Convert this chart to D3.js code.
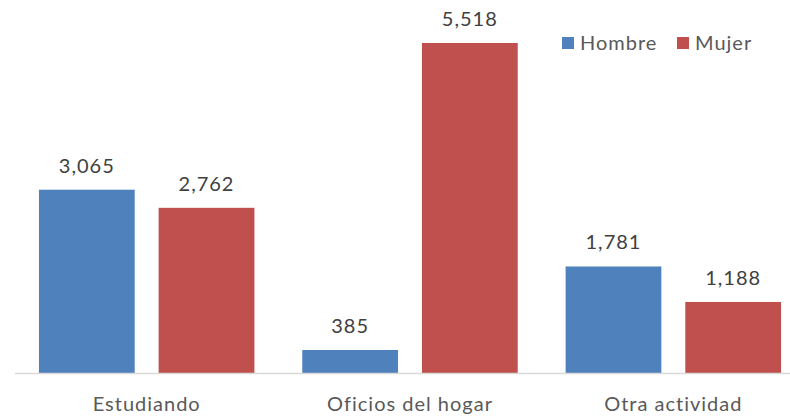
<!DOCTYPE html>
<html><head><meta charset="utf-8">
<script src="https://cdn.jsdelivr.net/npm/d3@7"></script>
<style>body{margin:0;background:#fff;overflow:hidden}svg{display:block;font-family:Lato,"Open Sans",sans-serif}</style>
</head><body>
<svg id="c" width="790" height="416"></svg>
<script>
const categories = ["Estudiando", "Oficios del hogar", "Otra actividad"];
const seriesNames = ["Hombre", "Mujer"];
const hombre = [3065, 385, 1781];
const mujer = [2762, 5518, 1188];
const colors = ["#4F81BD", "#C0504D"];

(function () {
const svg = d3.select("#c");
const base = 373, plotTop = 43;
const x0 = d3.scaleBand().domain(categories).range([15, 805]).paddingInner(0).paddingOuter(0);
const x1 = d3.scaleBand().domain(seriesNames).range([0, x0.bandwidth()]).paddingInner(0.2).paddingOuter(0.2);
const y = d3.scaleLinear().domain([0, 5518]).range([base, plotTop]);
const fmt = d3.format(",");

const data = categories.map((c, i) => ({cat: c, vals: [hombre[i], mujer[i]]}));

const g = svg.selectAll("g.cat").data(data).join("g").attr("class", "cat")
  .attr("transform", d => `translate(${x0(d.cat)},0)`);
g.selectAll("rect").data(d => d.vals.map((v, j) => ({v, s: seriesNames[j], j}))).join("rect")
  .attr("x", d => x1(d.s)).attr("width", x1.bandwidth())
  .attr("y", d => y(d.v)).attr("height", d => base - y(d.v))
  .attr("fill", d => colors[d.j]);
g.selectAll("text.val").data(d => d.vals.map((v, j) => ({v, s: seriesNames[j]}))).join("text")
  .attr("class", "val")
  .attr("x", d => x1(d.s) + x1.bandwidth() / 2)
  .attr("y", d => y(d.v) - 17)
  .attr("text-anchor", "middle").attr("font-size", 20).attr("letter-spacing", 1).attr("fill", "#404040")
  .text(d => fmt(d.v));

svg.append("line").attr("x1", 15).attr("x2", 805).attr("y1", base + 0.5).attr("y2", base + 0.5)
  .attr("stroke", "#D9D9D9").attr("stroke-width", 1.5);

svg.selectAll("text.catlab").data(categories).join("text").attr("class", "catlab")
  .attr("x", d => x0(d) + x0.bandwidth() / 2).attr("y", 411)
  .attr("text-anchor", "middle").attr("font-size", 20).attr("letter-spacing", 1).attr("fill", "#595959")
  .text(d => d);

const legX = [562, 677];
const lg = svg.selectAll("g.leg").data(seriesNames).join("g").attr("class", "leg")
  .attr("transform", (d, i) => `translate(${legX[i]},37)`);
lg.append("rect").attr("width", 12).attr("height", 12).attr("fill", (d, i) => colors[i]);
lg.append("text").attr("x", 18).attr("y", 13).attr("font-size", 20).attr("letter-spacing", 1).attr("fill", "#595959").text(d => d);
})();
</script>
</body></html>
